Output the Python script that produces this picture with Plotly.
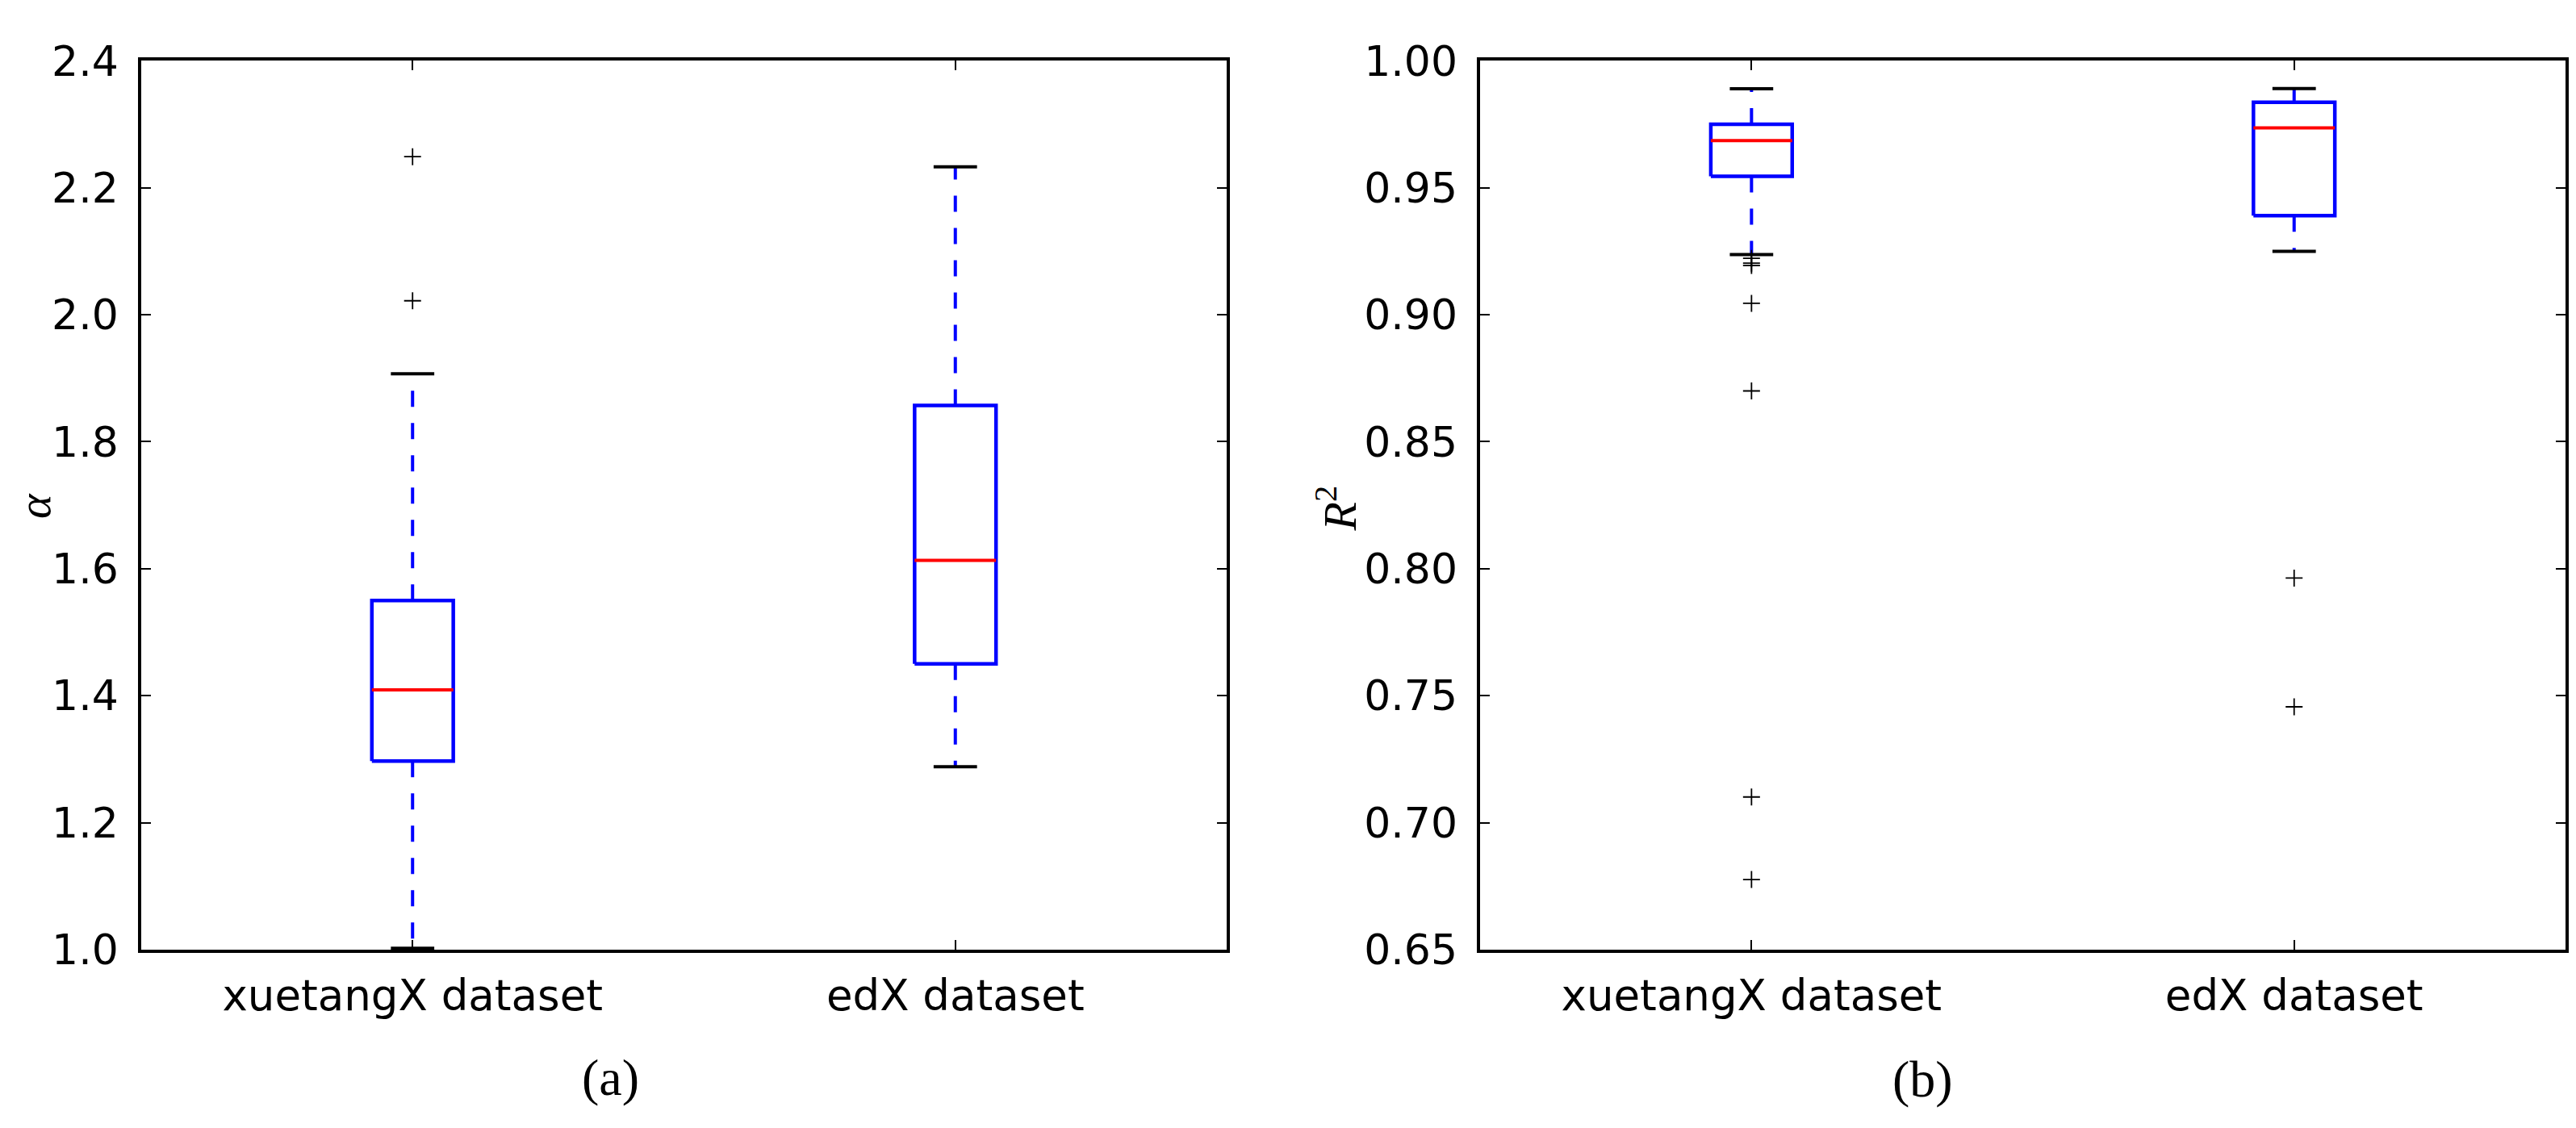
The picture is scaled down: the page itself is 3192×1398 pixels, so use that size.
import plotly.graph_objects as go
from plotly.subplots import make_subplots

# categories on the x axis of both panels
categories = ["xuetangX dataset", "edX dataset"]
positions = [1, 2]

# panel (a): alpha
alpha_lower = [1.002, 1.288]
alpha_q1 = [1.297, 1.450]
alpha_median = [1.409, 1.613]
alpha_q3 = [1.550, 1.857]
alpha_upper = [1.907, 2.233]
alpha_outliers = [[2.249, 2.022], []]
alpha_ticks = [1.0, 1.2, 1.4, 1.6, 1.8, 2.0, 2.2, 2.4]

# panel (b): R^2
r2_lower = [0.9237, 0.925]
r2_q1 = [0.9545, 0.939]
r2_median = [0.9686, 0.9736]
r2_q3 = [0.975, 0.9837]
r2_upper = [0.989, 0.9891]
r2_outliers = [[0.9222, 0.9203, 0.9194, 0.9045, 0.870, 0.7101, 0.6776],
               [0.7963, 0.7456]]
r2_ticks = [0.65, 0.70, 0.75, 0.80, 0.85, 0.90, 0.95, 1.00]

BLUE = "#0000ff"
RED = "#ff0000"
HALF_BOX = 0.075   # matplotlib default box width 0.15
HALF_CAP = 0.04

fig = make_subplots(rows=1, cols=2)


def add_boxes(col, lower, q1, median, q3, upper, outliers):
    for i, p in enumerate(positions):
        # whiskers, dashed, drawn outward from the box
        for a, b in [(q1[i], lower[i]), (q3[i], upper[i])]:
            fig.add_trace(go.Scatter(
                x=[p, p], y=[a, b], mode="lines",
                line=dict(color=BLUE, width=4, dash="20px,20px"),
                hoverinfo="skip"), row=1, col=col)
        # box
        fig.add_trace(go.Scatter(
            x=[p - HALF_BOX, p + HALF_BOX, p + HALF_BOX, p - HALF_BOX, p - HALF_BOX],
            y=[q1[i], q1[i], q3[i], q3[i], q1[i]], mode="lines",
            line=dict(color=BLUE, width=4.5),
            hoverinfo="skip"), row=1, col=col)
        # median
        fig.add_trace(go.Scatter(
            x=[p - HALF_BOX, p + HALF_BOX], y=[median[i], median[i]], mode="lines",
            line=dict(color=RED, width=4),
            hoverinfo="skip"), row=1, col=col)
        # caps
        fig.add_trace(go.Scatter(
            x=[p - HALF_CAP, p + HALF_CAP, None, p - HALF_CAP, p + HALF_CAP],
            y=[lower[i], lower[i], None, upper[i], upper[i]], mode="lines",
            line=dict(color="black", width=4),
            hoverinfo="skip"), row=1, col=col)
        # fliers
        if outliers[i]:
            fig.add_trace(go.Scatter(
                x=[p] * len(outliers[i]), y=outliers[i], mode="markers",
                marker=dict(symbol="cross-thin", size=15,
                            line=dict(color="black", width=1.8)),
                hoverinfo="skip"), row=1, col=col)


add_boxes(1, alpha_lower, alpha_q1, alpha_median, alpha_q3, alpha_upper, alpha_outliers)
add_boxes(2, r2_lower, r2_q1, r2_median, r2_q3, r2_upper, r2_outliers)

axis_common = dict(
    ticks="inside", ticklen=12, tickwidth=1.5, tickcolor="black",
    showline=True, linewidth=3.5, linecolor="black", mirror="ticks",
    showgrid=False, zeroline=False,
)

fig.update_xaxes(range=[0.5, 2.5], tickvals=positions, ticktext=categories,
                 ticklabelstandoff=8,
                 tickfont=dict(family="DejaVu Sans", size=53, color="black"),
                 **axis_common)
fig.update_xaxes(domain=[0.0523, 0.4737], row=1, col=1)
fig.update_xaxes(domain=[0.5721, 0.9934], row=1, col=2)

fig.update_yaxes(domain=[0.1488, 0.9721], ticklabelstandoff=14,
                 tickfont=dict(family="DejaVu Sans", size=52, color="black"),
                 **axis_common)
fig.update_yaxes(range=[1.0, 2.4], tickvals=alpha_ticks,
                 ticktext=[f"{t:.1f}" for t in alpha_ticks], row=1, col=1)
fig.update_yaxes(range=[0.65, 1.0], tickvals=r2_ticks,
                 ticktext=[f"{t:.2f}" for t in r2_ticks], row=1, col=2)

serif = "Liberation Serif"
annotations = [
    dict(text="<i>α</i>", x=0, xanchor="left", y=1 - 616 / 1398, textangle=-90,
         font=dict(family=serif, size=58, color="black")),
    dict(text="<i>R</i><sup>2</sup>", x=1648 / 3192, y=1 - 619 / 1398, textangle=-90,
         font=dict(family=serif, size=58, color="black")),
    dict(text="(a)", x=748 / 3192, y=1 - 1356 / 1398,
         font=dict(family=serif, size=64, color="black")),
    dict(text="(b)", x=2374 / 3192, y=1 - 1358 / 1398,
         font=dict(family=serif, size=64, color="black")),
]
for a in annotations:
    a.setdefault("xanchor", "center")
    a.update(xref="paper", yref="paper", showarrow=False, yanchor="middle")

fig.update_layout(
    width=3192, height=1398,
    margin=dict(l=0, r=0, t=0, b=0),
    paper_bgcolor="white", plot_bgcolor="white",
    showlegend=False,
    annotations=annotations,
)

fig.write_html("out.html")
